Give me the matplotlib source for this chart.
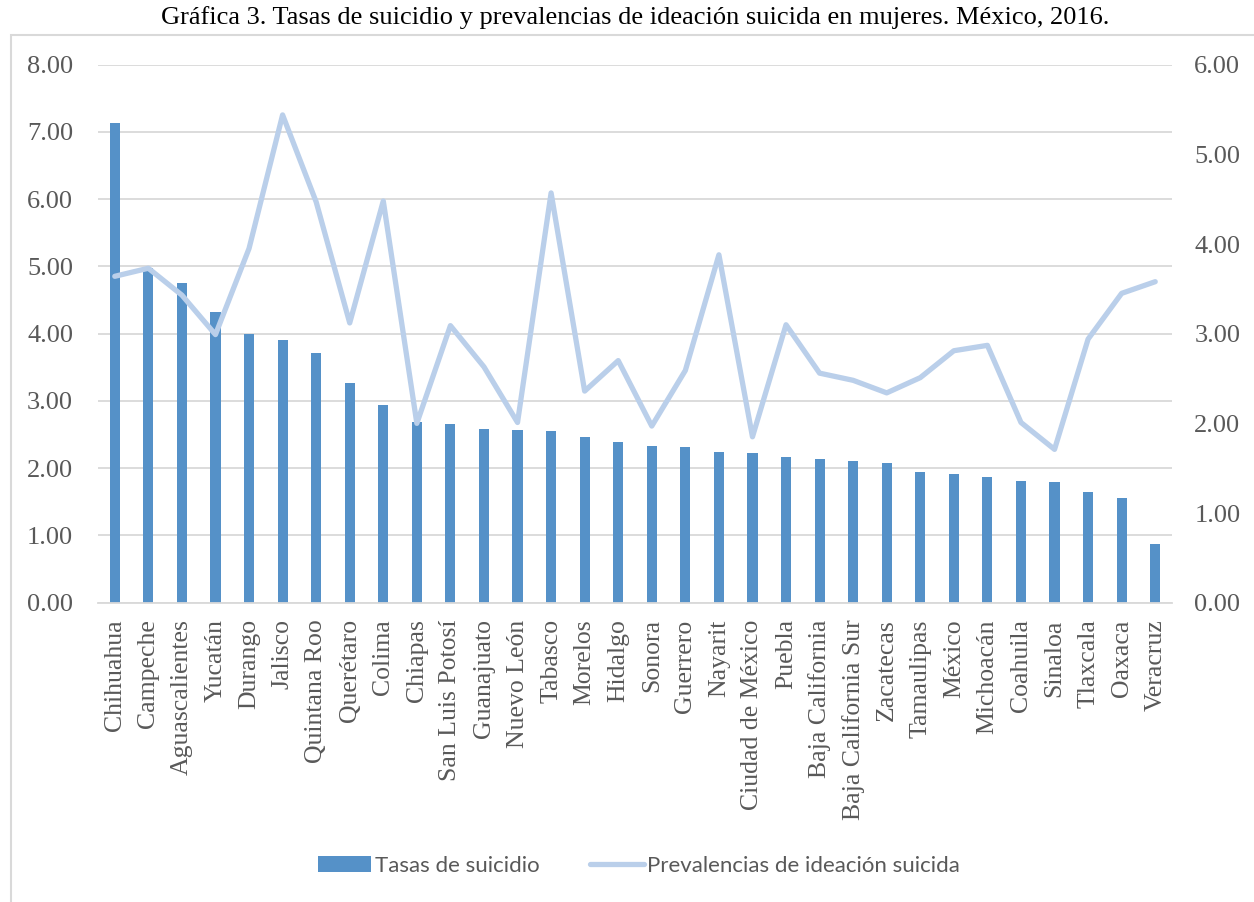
import matplotlib.pyplot as plt
from matplotlib.patches import Rectangle
from matplotlib.ticker import FormatStrFormatter

plt.rcParams["font.family"] = ["Liberation Serif", "DejaVu Serif"]

# Entidades federativas, ordenadas por tasa de suicidio
estados = [
    "Chihuahua", "Campeche", "Aguascalientes", "Yucatán", "Durango", "Jalisco",
    "Quintana Roo", "Querétaro", "Colima", "Chiapas", "San Luis Potosí",
    "Guanajuato", "Nuevo León", "Tabasco", "Morelos", "Hidalgo", "Sonora",
    "Guerrero", "Nayarit", "Ciudad de México", "Puebla", "Baja California",
    "Baja California Sur", "Zacatecas", "Tamaulipas", "México", "Michoacán",
    "Coahuila", "Sinaloa", "Tlaxcala", "Oaxaca", "Veracruz",
]

# Tasas de suicidio (eje izquierdo)
tasas = [
    7.13, 4.98, 4.76, 4.33, 4.00, 3.91, 3.71, 3.26, 2.94, 2.69, 2.66,
    2.59, 2.57, 2.56, 2.46, 2.39, 2.33, 2.31, 2.24, 2.23, 2.16, 2.14,
    2.10, 2.07, 1.95, 1.92, 1.87, 1.81, 1.80, 1.65, 1.55, 0.88,
]

# Prevalencias de ideación suicida (eje derecho)
prevalencias = [
    3.64, 3.73, 3.43, 2.99, 3.95, 5.44, 4.47, 3.12, 4.48, 2.00, 3.09,
    2.63, 2.01, 4.57, 2.36, 2.70, 1.97, 2.59, 3.88, 1.85, 3.10, 2.56,
    2.48, 2.34, 2.51, 2.81, 2.87, 2.01, 1.71, 2.94, 3.45, 3.58,
]

BAR_COLOR = "#5591C8"
LINE_COLOR = "#BACFEA"
GRID_COLOR = "#D9D9D9"
TEXT_COLOR = "#595959"

W, H = 1254, 902
fig = plt.figure(figsize=(W / 100, H / 100), dpi=100)

# marco del área del gráfico
fig.patches.append(Rectangle((11 / W, -0.05), 1.2, 1 - 35 / H + 0.05,
                             transform=fig.transFigure, fill=False,
                             edgecolor=GRID_COLOR, linewidth=1.5))

ax = fig.add_axes([98 / W, 1 - 602.7 / H, (1172 - 98) / W, (602.7 - 64.7) / H])
x = list(range(len(estados)))

ax.bar(x, tasas, width=0.3, color=BAR_COLOR, zorder=2, label="Tasas de suicidio")
ax.set_xlim(-0.5, len(estados) - 0.5)
ax.set_ylim(0, 8)
ax.set_yticks([0, 1, 2, 3, 4, 5, 6, 7, 8])
ax.yaxis.set_major_formatter(FormatStrFormatter("%.2f"))
ax.grid(axis="y", color=GRID_COLOR, linewidth=1.3, zorder=0)
ax.set_axisbelow(True)

ax2 = ax.twinx()
ax2.plot(x, prevalencias, color=LINE_COLOR, linewidth=3.8, solid_capstyle="round",
         solid_joinstyle="round", zorder=3, label="Prevalencias de ideación suicida")
ax2.set_ylim(0, 6)
ax2.set_yticks([0, 1, 2, 3, 4, 5, 6])
ax2.yaxis.set_major_formatter(FormatStrFormatter("%.2f"))

for a in (ax, ax2):
    for s in a.spines.values():
        s.set_visible(False)
    a.tick_params(length=0, labelsize=19, labelcolor=TEXT_COLOR)
ax.tick_params(axis="y", pad=18)
ax2.tick_params(axis="y", pad=16)
ax.spines["bottom"].set_visible(True)
ax.spines["bottom"].set_color(GRID_COLOR)
ax.spines["bottom"].set_linewidth(1.3)

ax.set_xticks(x)
ax.set_xticklabels(estados, rotation=90, fontsize=18.5, color=TEXT_COLOR)
ax.tick_params(axis="x", pad=12)

fig.text(635 / W, 1 - 18 / H,
         "Gráfica 3. Tasas de suicidio y prevalencias de ideación suicida en mujeres. México, 2016.",
         ha="center", va="center", fontsize=19, color="black")

h1, l1 = ax.get_legend_handles_labels()
h2, l2 = ax2.get_legend_handles_labels()
fig.legend(h1 + h2, l1 + l2, loc="center", bbox_to_anchor=(639 / W, 1 - 866 / H),
           ncol=2, frameon=False, prop={"family": "Lato", "size": 16},
           labelcolor=TEXT_COLOR, handlelength=2.4, handletextpad=0.15,
           columnspacing=2.3)

fig.savefig("out.png", dpi=100)
